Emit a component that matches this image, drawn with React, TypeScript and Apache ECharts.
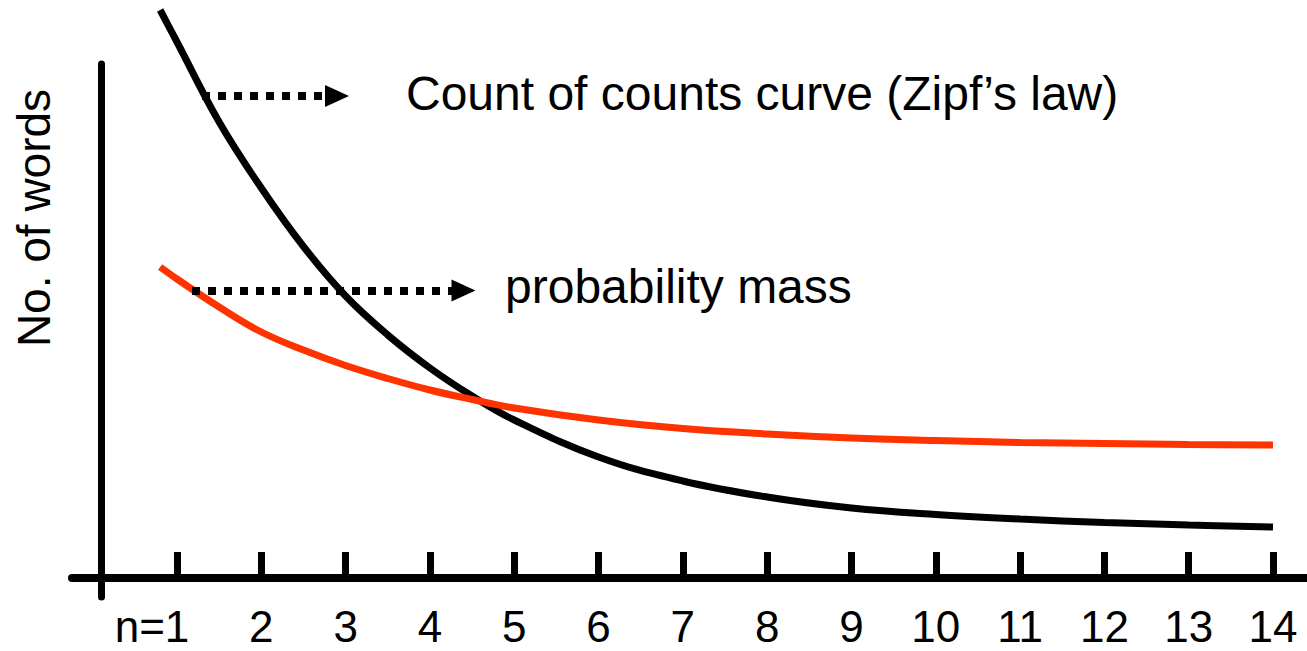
import React, { useEffect, useRef } from "react";
import * as echarts from "echarts";

// n (count) positions where the curves were read
const nValues = [0.8, 1, 1.5, 2, 2.5, 3, 3.5, 4, 4.5, 5, 6, 7, 8, 9, 10, 11, 12, 13, 14];
// Count of counts curve (Zipf's law), arbitrary units
const countOfCounts = [113.6, 107.2, 91.2, 78, 66.3, 56.4, 48.6, 42, 36.4, 31.6, 24.2, 19.4, 16.2, 14, 12.7, 11.8, 11.1, 10.6, 10.2];
// probability mass curve, arbitrary units
const probabilityMass = [62.2, 59.8, 54.2, 49.2, 45.6, 42.5, 39.9, 37.6, 35.7, 34, 31.6, 29.9, 28.8, 28, 27.5, 27.1, 26.9, 26.7, 26.6];
// tick positions and labels
const tickValues = [1, 2, 3, 4, 5, 6, 7, 8, 9, 10, 11, 12, 13, 14];
const tickLabels = ["n=1", "2", "3", "4", "5", "6", "7", "8", "9", "10", "11", "12", "13", "14"];
// annotation arrows (data coordinates: [n, y])
const zipfArrow = [[1.2965, 96.4], [2.898, 96.4]];
const massArrow = [[1.178, 57.5], [4.398, 57.5]];
const zipfText = "Count of counts curve (Zipf\u2019s law)";
const massText = "probability mass";
const yTitle = "No. of words";

const FONT = "'Liberation Sans', Arial, Helvetica, sans-serif";

export default function App() {
  const ref = useRef<HTMLDivElement>(null);
  useEffect(() => {
    if (!ref.current) return;
    const chart = echarts.init(ref.current, null, { renderer: "svg" });
    const arrowLine = (pts: number[][]) => [
      { coord: pts[0], symbol: "none" },
      { coord: pts[1], symbol: "triangle", symbolSize: [22, 24] },
    ];
    chart.setOption({
      animation: false,
      grid: { left: 72, right: 0, top: 64, bottom: 54, containLabel: false, outerBoundsMode: "none" },
      xAxis: {
        type: "value",
        min: -0.2454,
        max: 14.4033,
        axisLine: { onZero: true, lineStyle: { color: "#000", width: 8 } },
        axisTick: {
          show: true,
          inside: true,
          length: 26,
          customValues: tickValues,
          lineStyle: { color: "#000", width: 7 },
        },
        axisLabel: {
          show: true,
          customValues: tickValues,
          margin: 14,
          color: "#000",
          fontSize: 44,
          lineHeight: 30,
          fontFamily: FONT,
          formatter: (v: number) => {
            const i = tickValues.indexOf(v);
            const s = i >= 0 ? tickLabels[i] : "";
            if (s.startsWith("n=")) return "{a|n=}{b|" + s.slice(2) + "}{c|}";
            return s;
          },
          rich: {
            a: { fontSize: 44, lineHeight: 30, fontFamily: FONT, color: "#000" },
            b: { fontSize: 44, lineHeight: 30, fontFamily: FONT, color: "#000" },
            c: { fontSize: 44, lineHeight: 30, fontFamily: FONT, width: 50 },
          },
        },
        splitLine: { show: false },
      },
      yAxis: {
        type: "value",
        min: -3.8,
        max: 102.8,
        position: "left",
        offset: -29.7,
        axisLine: { show: true, onZero: false, lineStyle: { color: "#000", width: 7 } },
        axisTick: { show: false },
        axisLabel: { show: false },
        splitLine: { show: false },
      },
      graphic: [
        {
          type: "text",
          x: 406,
          y: 93.5,
          style: { text: zipfText, font: `48px ${FONT}`, fill: "#000", align: "left", verticalAlign: "middle" },
        },
        {
          type: "text",
          x: 505,
          y: 286,
          style: { text: massText, font: `48px ${FONT}`, fill: "#000", align: "left", verticalAlign: "middle" },
        },
        {
          type: "text",
          x: 34,
          y: 218,
          rotation: Math.PI / 2,
          style: { text: yTitle, font: `46px ${FONT}`, fill: "#000", align: "center", verticalAlign: "middle" },
        },
      ],
      series: [
        {
          type: "line",
          name: "Count of counts",
          data: nValues.map((n, i) => [n, countOfCounts[i]]),
          smooth: 0.4,
          showSymbol: false,
          clip: false,
          lineStyle: { color: "#000", width: 7 },
          z: 2,
          markLine: {
            silent: true,
            animation: false,
            label: { show: false },
            lineStyle: { color: "#000", width: 8, type: [8, 8] },
            data: [arrowLine(zipfArrow), arrowLine(massArrow)],
          },
        },
        {
          type: "line",
          name: "probability mass",
          data: nValues.map((n, i) => [n, probabilityMass[i]]),
          smooth: 0.4,
          showSymbol: false,
          clip: false,
          lineStyle: { color: "#ff3300", width: 7 },
          z: 3,
        },
      ],
    });
    return () => chart.dispose();
  }, []);
  return (
    <div
      ref={ref}
      style={{ position: "absolute", left: 0, top: 0, width: 1307, height: 651, background: "#fff" }}
    />
  );
}
